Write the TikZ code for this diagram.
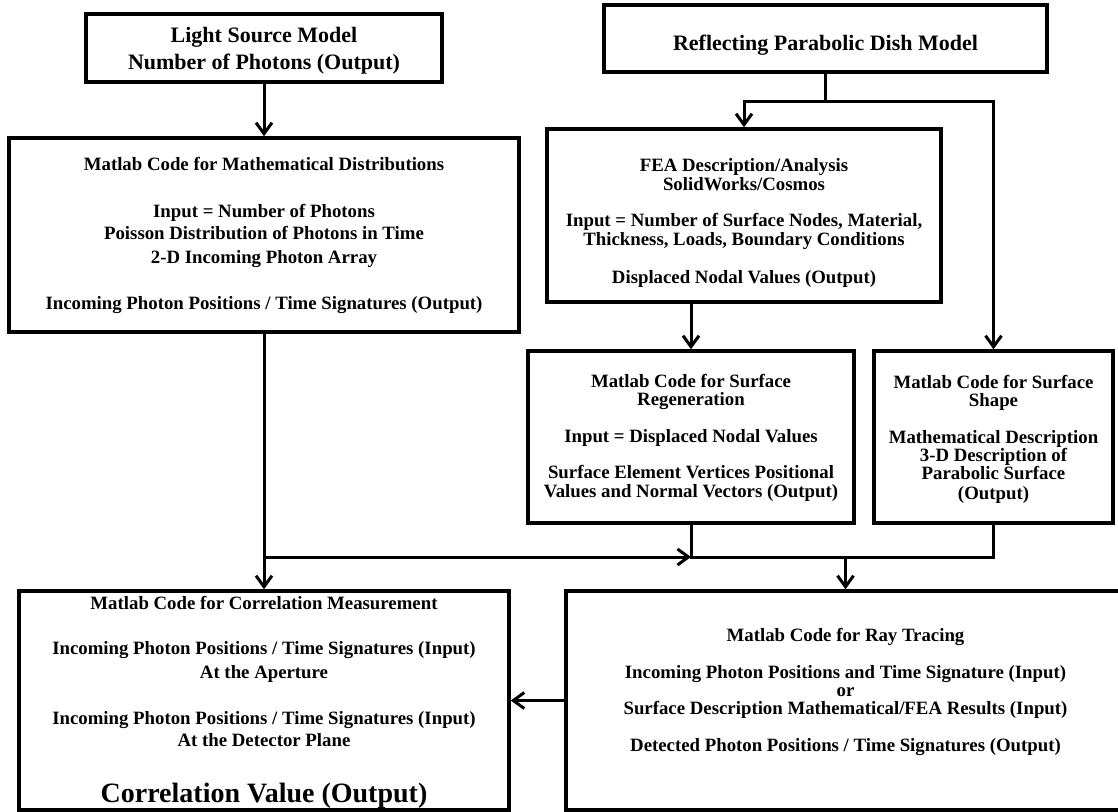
\documentclass[tikz,border=0pt]{standalone}
\usepackage{fontspec}
\setmainfont{Liberation Serif}
\usetikzlibrary{arrows.meta}
\begin{document}
\begin{tikzpicture}[x=1pt,y=-1pt,
  box/.style={draw=black, line width=3.5pt, inner sep=0pt},
  ln/.style={line width=3pt},
  arr/.style={line width=3pt, -{Straight Barb[length=11pt,width=16pt]}},
  t/.style={font=\bfseries\fontsize{18.8}{20}\selectfont, inner sep=0pt, text height=12.8pt, text depth=0pt},
  tl/.style={font=\bfseries\fontsize{22}{24}\selectfont, inner sep=0pt, text height=15pt, text depth=0pt},
  tx/.style={font=\bfseries\fontsize{28}{30}\selectfont, inner sep=0pt, text height=19pt, text depth=0pt}]
\useasboundingbox (0,0) rectangle (1118,811);
\clip (0,0) rectangle (1118,811);
\fill[white] (0,0) rectangle (1118,811);

% boxes
\node[box, minimum width=356pt, minimum height=68pt] (A) at (264,48) {};
\node[box, minimum width=443pt, minimum height=67pt] (C) at (825.5,38.5) {};
\node[box, minimum width=510pt, minimum height=194pt] (B) at (264,235) {};
\node[box, minimum width=394pt, minimum height=173pt] (D) at (744,215.5) {};
\node[box, minimum width=326pt, minimum height=172pt] (E) at (691,437) {};
\node[box, minimum width=239pt, minimum height=172pt] (F) at (993.5,437) {};
\node[box, minimum width=490pt, minimum height=219pt] (H) at (264,700.5) {};
\node[box, minimum width=559pt, minimum height=219pt] (G) at (845.5,700.5) {};

% texts A
\node[tl] (A1) at (264,35) {Light Source Model};
\node[tl] (A2) at (264,62) {Number of Photons (Output)};
% C
\node[tl] (C1) at (825.5,43) {Reflecting Parabolic Dish Model};
% B
\node[t] (B1) at (264,164) {Matlab Code for Mathematical Distributions};
\node[t] (B2) at (264,211) {Input = Number of Photons};
\node[t] (B3) at (264,233) {Poisson Distribution of Photons in Time};
\node[t] (B4) at (264,257) {2-D Incoming Photon Array};
\node[t] (B5) at (264,303) {Incoming Photon Positions / Time Signatures (Output)};
% D
\node[t] (D1) at (744,165) {FEA Description/Analysis};
\node[t] (D2) at (744,184) {SolidWorks/Cosmos};
\node[t] (D3) at (744,220) {Input = Number of Surface Nodes, Material,};
\node[t] (D4) at (744,239) {Thickness, Loads, Boundary Conditions};
\node[t] (D5) at (744,277) {Displaced Nodal Values (Output)};
% E
\node[t] (E1) at (691,381) {Matlab Code for Surface};
\node[t] (E2) at (691,399) {Regeneration};
\node[t] (E3) at (691,436) {Input = Displaced Nodal Values};
\node[t] (E4) at (691,472) {Surface Element Vertices Positional};
\node[t] (E5) at (691,491) {Values and Normal Vectors (Output)};
% F
\node[t] (F1) at (993.5,382) {Matlab Code for Surface};
\node[t] (F2) at (993.5,400) {Shape};
\node[t] (F3) at (993.5,437) {Mathematical Description};
\node[t] (F4) at (993.5,455) {3-D Description of};
\node[t] (F5) at (993.5,473) {Parabolic Surface};
\node[t] (F6) at (993.5,493) {(Output)};
% G
\node[t] (G1) at (845.5,635) {Matlab Code for Ray Tracing};
\node[t] (G2) at (845.5,672) {Incoming Photon Positions and Time Signature (Input)};
\node[t] (G3) at (845.5,690) {or};
\node[t] (G4) at (845.5,708) {Surface Description Mathematical/FEA Results (Input)};
\node[t] (G5) at (845.5,745) {Detected Photon Positions / Time Signatures (Output)};
% H
\node[t] (H1) at (264,603) {Matlab Code for Correlation Measurement};
\node[t] (H2) at (264,648) {Incoming Photon Positions / Time Signatures (Input)};
\node[t] (H3) at (264,672) {At the Aperture};
\node[t] (H4) at (264,718) {Incoming Photon Positions / Time Signatures (Input)};
\node[t] (H5) at (264,740) {At the Detector Plane};
\node[tx] (H6) at (264,793) {Correlation Value (Output)};

% connectors
\draw[arr] (A.south) -- (B.north);
\coordinate (c1) at (825.5,101);
\draw[ln] (C.south) -- (c1);
\draw[arr] (c1) -| (D.north);
\draw[arr] (c1) -| (F.north);
\draw[arr] (D.south -| E.north) -- (E.north);
\draw[arr] (B.south) -- (H.north);
\coordinate (m1) at (691,557);
\coordinate (m0) at (B.south |- m1);
\coordinate (m2) at (F.south |- m1);
\coordinate (m3) at (G.north |- m1);
\draw[arr] (m0) -- (m1);
\draw[ln] (E.south) -- (m1) -- (m2) -- (F.south);
\draw[arr] (m3) -- (G.north);
\draw[arr] (G.west) -- (H.east);
\end{tikzpicture}
\end{document}
